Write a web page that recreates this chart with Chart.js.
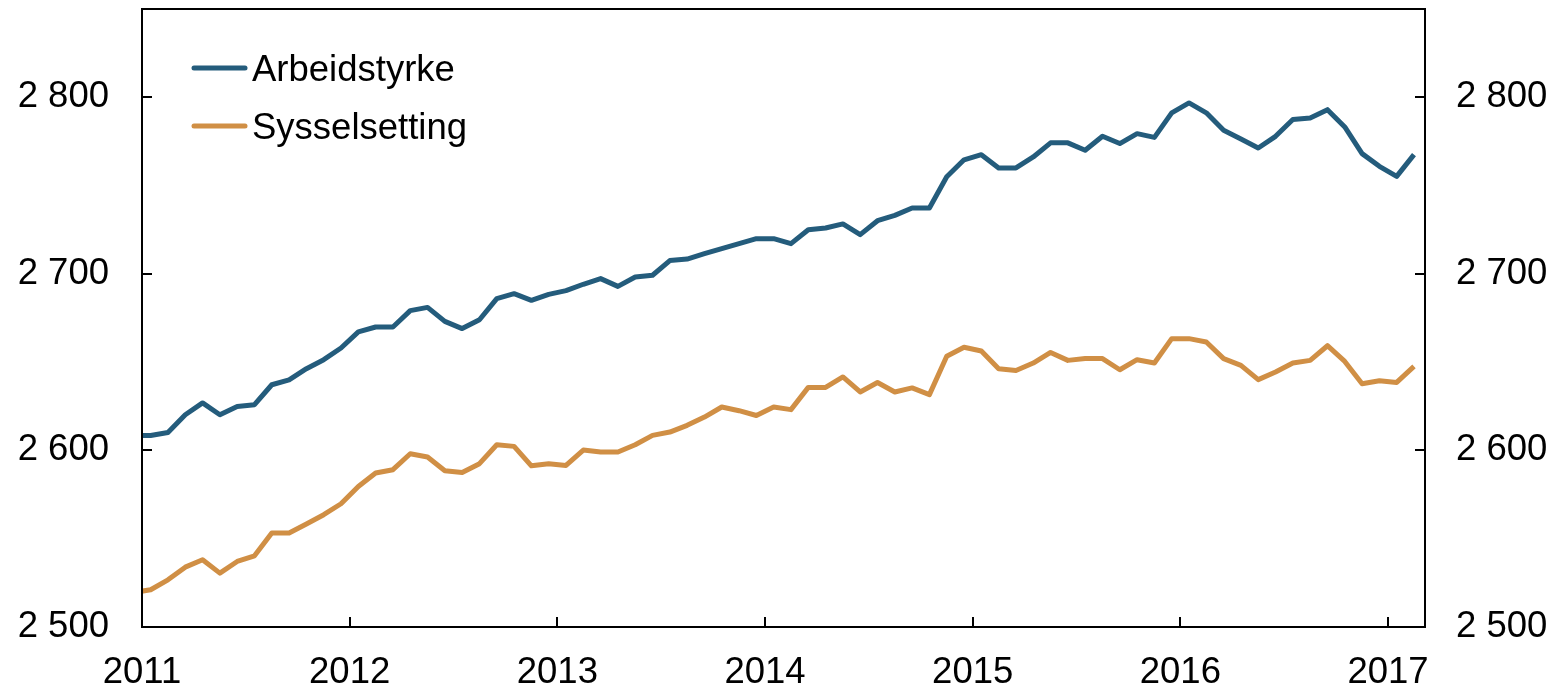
<!DOCTYPE html>
<html>
<head>
<meta charset="utf-8">
<script src="https://cdn.jsdelivr.net/npm/chart.js@4/dist/chart.umd.min.js"></script>
<style>
html,body{margin:0;padding:0;background:#fff;}
#wrap{width:1555px;height:687px;position:relative;}
</style>
</head>
<body>
<div id="wrap"><canvas id="c" width="1555" height="687"></canvas></div>
<script>
// Monthly observations (mid-month), first one Dec 2010 (clipped by axis)
const startYear = 2010, startMonth = 12, monthCount = 75;
const months = [];
for (let i = 0; i < monthCount; i++) {
  const m0 = startMonth - 1 + i;
  months.push((startYear + Math.floor(m0 / 12)) + '-' + String(m0 % 12 + 1).padStart(2, '0'));
}
const seriesNames = ['Arbeidstyrke', 'Sysselsetting'];
const arbeidstyrke = [2608.5, 2608.5, 2610.2, 2620.2, 2626.9, 2620.2, 2624.9, 2625.9, 2637.2, 2640, 2646.3, 2651.4, 2658, 2667.1, 2669.9, 2669.9, 2679.2, 2681, 2673.1, 2669, 2674, 2686, 2688.8, 2685, 2688.4, 2690.5, 2694.1, 2697.3, 2692.9, 2698.2, 2699.2, 2707.5, 2708.4, 2711.4, 2714.3, 2717.1, 2719.9, 2719.9, 2717.1, 2725, 2726, 2728.3, 2722.2, 2730.1, 2733.1, 2737.3, 2737.3, 2755, 2764.6, 2767.5, 2760, 2760, 2766.2, 2774.2, 2774.2, 2770, 2777.9, 2773.8, 2779.4, 2777.3, 2791.2, 2796.8, 2791.2, 2781.3, 2776.4, 2771.3, 2777.9, 2787.4, 2788.3, 2793, 2783.2, 2768.1, 2760.9, 2755.2, 2767.5];
const sysselsetting = [2519.5, 2521.1, 2526.7, 2533.9, 2538.1, 2530.5, 2537.1, 2540.3, 2553.2, 2553.2, 2558.3, 2563.6, 2569.8, 2579.6, 2587.2, 2589.1, 2598.1, 2596.3, 2588.5, 2587.5, 2592.5, 2603.2, 2602.3, 2591.3, 2592.5, 2591.5, 2600.2, 2599.1, 2599.1, 2603.2, 2608.5, 2610.4, 2614.2, 2618.9, 2624.6, 2622.5, 2619.8, 2624.6, 2623.1, 2635.7, 2635.7, 2641.6, 2633.1, 2638.5, 2633.1, 2635.4, 2631.6, 2653.3, 2658.4, 2656.3, 2646.2, 2645.3, 2649.5, 2655.5, 2651, 2652, 2652, 2645.7, 2651.4, 2649.5, 2663.3, 2663.3, 2661.4, 2652, 2648.2, 2640.1, 2644.4, 2649.5, 2651, 2659.3, 2650.4, 2637.8, 2639.5, 2638.5, 2647.6];
const yearTicks = [2011, 2012, 2013, 2014, 2015, 2016, 2017];
const yTicks = [2500, 2600, 2700, 2800];

const colors = ['#245c7c', '#d08f45'];
function toX(label) {
  const [y, m] = label.split('-').map(Number);
  return y + (m - 0.5) / 12;
}
function pts(vals) { return vals.map((v, i) => ({x: toX(months[i]), y: v})); }
function fmtThousands(v) {
  const s = String(Math.round(v));
  return s.replace(/\B(?=(\d{3})+(?!\d))/g, ' ');
}

const FONT = "'Liberation Sans', Arial, sans-serif";

const framePlugin = {
  id: 'frame',
  afterDatasetsDraw(chart) {
    const {ctx, chartArea: a, scales} = chart;
    ctx.save();
    ctx.strokeStyle = '#000';
    ctx.lineWidth = 2;
    ctx.strokeRect(a.left, a.top, a.right - a.left, a.bottom - a.top);
    ctx.beginPath();
    yTicks.forEach(v => {
      const py = Math.round(scales.y.getPixelForValue(v));
      ctx.moveTo(a.left, py); ctx.lineTo(a.left + 10, py);
      ctx.moveTo(a.right, py); ctx.lineTo(a.right - 10, py);
    });
    yearTicks.forEach(v => {
      const px = Math.round(scales.x.getPixelForValue(v));
      ctx.moveTo(px, a.bottom); ctx.lineTo(px, a.bottom - 10);
    });
    ctx.stroke();
    // legend
    ctx.font = '36.5px ' + FONT;
    ctx.fillStyle = '#000';
    ctx.textBaseline = 'alphabetic';
    ctx.lineCap = 'round';
    const rows = [68, 126];
    chart.data.datasets.forEach((ds, i) => {
      ctx.strokeStyle = ds.borderColor;
      ctx.lineWidth = 5;
      ctx.beginPath();
      ctx.moveTo(194, rows[i]); ctx.lineTo(245, rows[i]);
      ctx.stroke();
      ctx.fillText(ds.label, 252, rows[i] + 12.5);
    });
    ctx.restore();
  }
};

function fitV(w) {
  return s => { s.width = w; s.paddingTop = 0; s.paddingBottom = 0; };
}

new Chart(document.getElementById('c'), {
  type: 'line',
  data: {
    datasets: [
      {label: seriesNames[0], data: pts(arbeidstyrke), borderColor: colors[0], borderWidth: 5, pointRadius: 0, tension: 0, clip: 0, borderJoinStyle: 'round'},
      {label: seriesNames[1], data: pts(sysselsetting), borderColor: colors[1], borderWidth: 5, pointRadius: 0, tension: 0, clip: 0, borderJoinStyle: 'round'}
    ]
  },
  options: {
    responsive: false,
    animation: false,
    devicePixelRatio: 1,
    layout: {padding: {left: 0, right: 0, top: 9, bottom: 0}},
    plugins: {legend: {display: false}, tooltip: {enabled: false}},
    scales: {
      x: {
        type: 'linear', min: 2011, max: 2017.178,
        grid: {display: false, drawTicks: false},
        border: {display: false},
        afterBuildTicks: s => { s.ticks = yearTicks.map(v => ({value: v})); },
        afterFit: s => { s.height = 60; s.paddingLeft = 0; s.paddingRight = 0; },
        ticks: {color: '#000', font: {family: FONT, size: 36.5}, padding: 24, maxRotation: 0, autoSkip: false, callback: v => String(v)}
      },
      y: {
        position: 'left', min: 2500, max: 2850,
        grid: {display: false, drawTicks: false},
        border: {display: false},
        afterBuildTicks: s => { s.ticks = yTicks.map(v => ({value: v})); },
        afterFit: fitV(142),
        ticks: {color: '#000', font: {family: FONT, size: 36.5}, padding: 33, callback: v => fmtThousands(v)}
      },
      y2: {
        position: 'right', min: 2500, max: 2850,
        grid: {display: false, drawTicks: false},
        border: {display: false},
        afterBuildTicks: s => { s.ticks = yTicks.map(v => ({value: v})); },
        afterFit: fitV(130),
        ticks: {color: '#000', font: {family: FONT, size: 36.5}, padding: 31, callback: v => fmtThousands(v)}
      }
    }
  },
  plugins: [framePlugin]
});
</script>
</body>
</html>
